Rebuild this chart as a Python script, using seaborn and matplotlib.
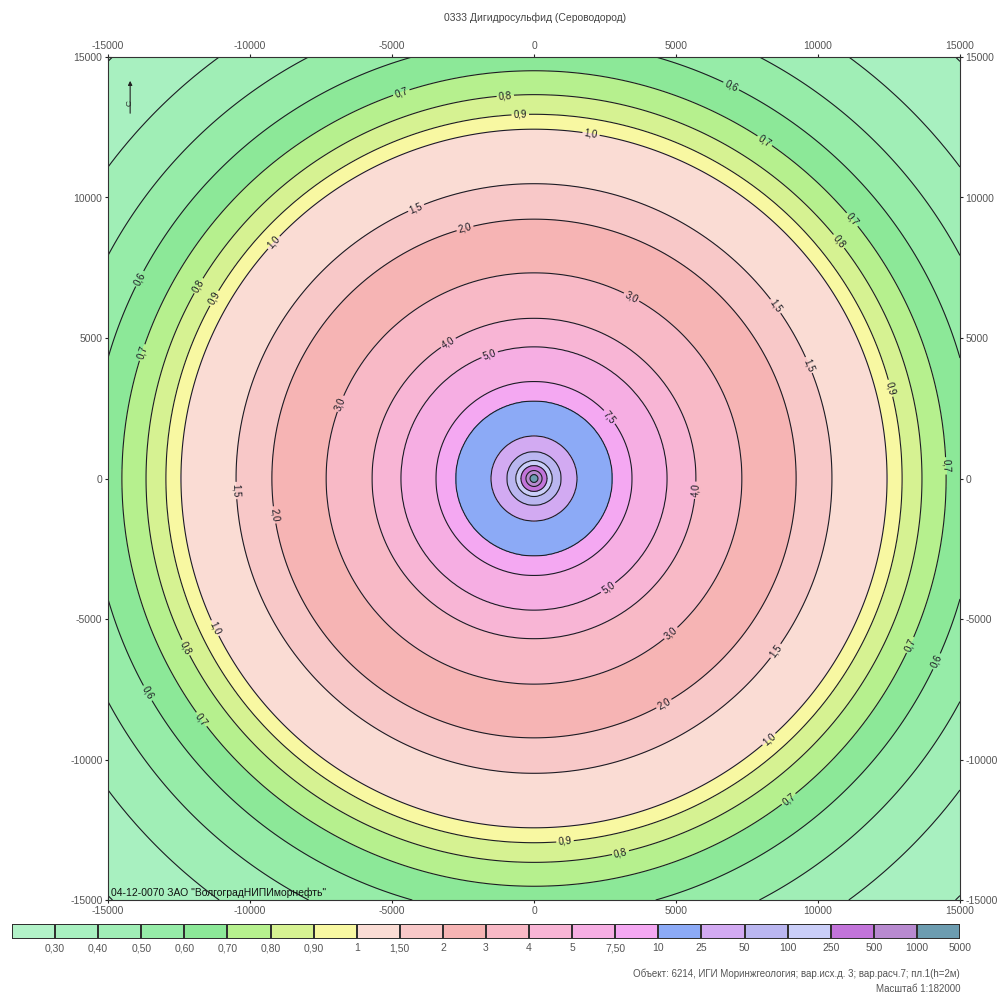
import numpy as np
import matplotlib
matplotlib.use("Agg")
import matplotlib.pyplot as plt
from matplotlib.colors import ListedColormap
import seaborn as sns

# radial profile: contour radius (m) -> concentration (ПДК)
radius_m = [0, 140, 280, 460, 630, 950, 1510, 2750, 3450, 4680, 5700, 7320,
            9230, 10490, 12430, 12960, 13660, 14510, 15600, 16970, 18650, 21100, 23000]
conc = [2000, 1000, 500, 250, 100, 50, 25, 10, 7.5, 5, 4, 3,
        2, 1.5, 1.0, 0.9, 0.8, 0.7, 0.6, 0.5, 0.4, 0.3, 0.26]

# legend classes
bounds = [0.1, 0.3, 0.4, 0.5, 0.6, 0.7, 0.8, 0.9, 1, 1.5, 2, 3, 4, 5, 7.5,
          10, 25, 50, 100, 250, 500, 1000, 5000]
bound_labels = ["0,30", "0,40", "0,50", "0,60", "0,70", "0,80", "0,90", "1", "1,50",
                "2", "3", "4", "5", "7,50", "10", "25", "50", "100", "250", "500",
                "1000", "5000"]
class_colors = ['#b2f2c8', '#a8f0c0', '#a0eeb6', '#96eca8', '#8ce898', '#b6f08e',
                '#d6f292', '#f8f8a2', '#fadcd4', '#f8c8c8', '#f6b4b4', '#f8b9c6',
                '#f8b5d5', '#f6aee3', '#f4a8f2', '#8caaf6', '#d2aaf2', '#bab6f0',
                '#cacef8', '#c274da', '#b88ad0', '#6c9cb0']
label_levels = [0.6, 0.7, 0.8, 0.9, 1.0, 1.5, 2.0, 3.0, 4.0, 5.0, 7.5]
plain_levels = [0.3, 0.4, 0.5, 10, 25, 50, 100, 250, 500, 1000]

# approximate spots where the isoline labels sit (m)
label_spots = [(-4720, 13880), (-1020, 13740), (-490, 13100), (1970, 12030),
               (-4190, 9720), (-2430, 8900), (3200, 5980), (-2960, 4730),
               (-1550, 4380), (2500, 2060), (6900, 13880), (8130, 12030),
               (10950, 9000), (10770, 8470), (9010, 6510), (9190, 3840),
               (12890, 3310), (14820, 460), (-13770, 7050), (-13700, 4450),
               (-11830, 6870), (-11300, 6440), (-9120, 8360), (-6650, 2600),
               (-10530, -430), (-9300, -1320), (5850, -430), (2680, -3990),
               (4440, -5050), (4610, -8080), (8490, -6120), (8310, -9320),
               (12890, -5770), (14120, -6480), (9010, -11460), (1090, -12880),
               (3030, -13240), (-12460, -6120), (-11410, -5410), (-14050, -7900),
               (-11760, -8610)]

title = "0333 Дигидросульфид (Сероводород)"
org_text = '04-12-0070 ЗАО "ВолгоградНИПИморнефть"'
obj_text = "Объект: 6214, ИГИ Моринжгеология; вар.исх.д. 3; вар.расч.7; пл.1(h=2м)"
scale_text = "Масштаб 1:182000"

sns.set_style("white")
plt.rcParams['font.family'] = ['Liberation Sans', 'DejaVu Sans']
plt.rcParams['axes.unicode_minus'] = False

# grid field from the radial profile
xs = np.linspace(-15000, 15000, 601)
X, Y = np.meshgrid(xs, xs)
R = np.hypot(X, Y)
C = np.exp(np.interp(R, radius_m, np.log(conc)))

fig = plt.figure(figsize=(10.06, 9.96), dpi=100)
ax = fig.add_axes([108 / 1006, 1 - 900 / 996, 852 / 1006, 843 / 996])

ax.contourf(X, Y, C, levels=bounds, colors=class_colors)
ax.contour(X, Y, C, levels=plain_levels, colors='#1c1c24', linewidths=0.8)
cs = ax.contour(X, Y, C, levels=label_levels, colors='#1c1c24', linewidths=0.8)


def fmt(v):
    return f"{v:.1f}".replace('.', ',')


ax.clabel(cs, fmt=fmt, fontsize=7, inline=True, inline_spacing=2, manual=label_spots)

ticks = np.arange(-15000, 15001, 5000)
ax.set_xticks(ticks)
ax.set_yticks(ticks)
ax.set_xlim(-15000, 15000)
ax.set_ylim(-15000, 15000)
ax.tick_params(top=True, labeltop=True, right=True, labelright=True, bottom=True, left=True,
               direction='inout', length=4, width=0.8, labelsize=7.5,
               labelcolor='#555555', pad=2)
for s in ax.spines.values():
    s.set_color('#333333')
    s.set_linewidth(0.8)

# north arrow
ax.annotate('', xy=(0.026, 0.975), xytext=(0.026, 0.93), xycoords='axes fraction',
            arrowprops=dict(arrowstyle='-|>', lw=0.8, color='#222222', mutation_scale=6))
ax.text(0.026, 0.945, "С", transform=ax.transAxes, rotation=90, fontsize=6,
        ha='center', va='center', color='#222222')

ax.text(0.003, 0.002, org_text, transform=ax.transAxes, fontsize=7.5,
        ha='left', va='bottom', color='#111111')

fig.text(535 / 1006, 1 - 18 / 996, title, ha='center', va='center', fontsize=7.5, color='#444444')
fig.text(960 / 1006, 1 - 974 / 996, obj_text, ha='right', va='center', fontsize=7, color='#555555')
fig.text(960 / 1006, 1 - 989 / 996, scale_text, ha='right', va='center', fontsize=7, color='#555555')

# legend strip
cax = fig.add_axes([12 / 1006, 1 - 939 / 996, 948 / 1006, 15 / 996])
strip = np.arange(len(class_colors)).reshape(1, -1)
sns.heatmap(strip, cmap=ListedColormap(class_colors), cbar=False, linewidths=1.2,
            linecolor='#303030', ax=cax)
cax.set_xticks(np.arange(1, len(class_colors) + 1))
cax.set_xticklabels(bound_labels, rotation=0)
cax.set_yticks([])
cax.tick_params(axis='x', length=0, labelsize=7.5, labelcolor='#555555', pad=3)

fig.savefig('out.png', dpi=100)
